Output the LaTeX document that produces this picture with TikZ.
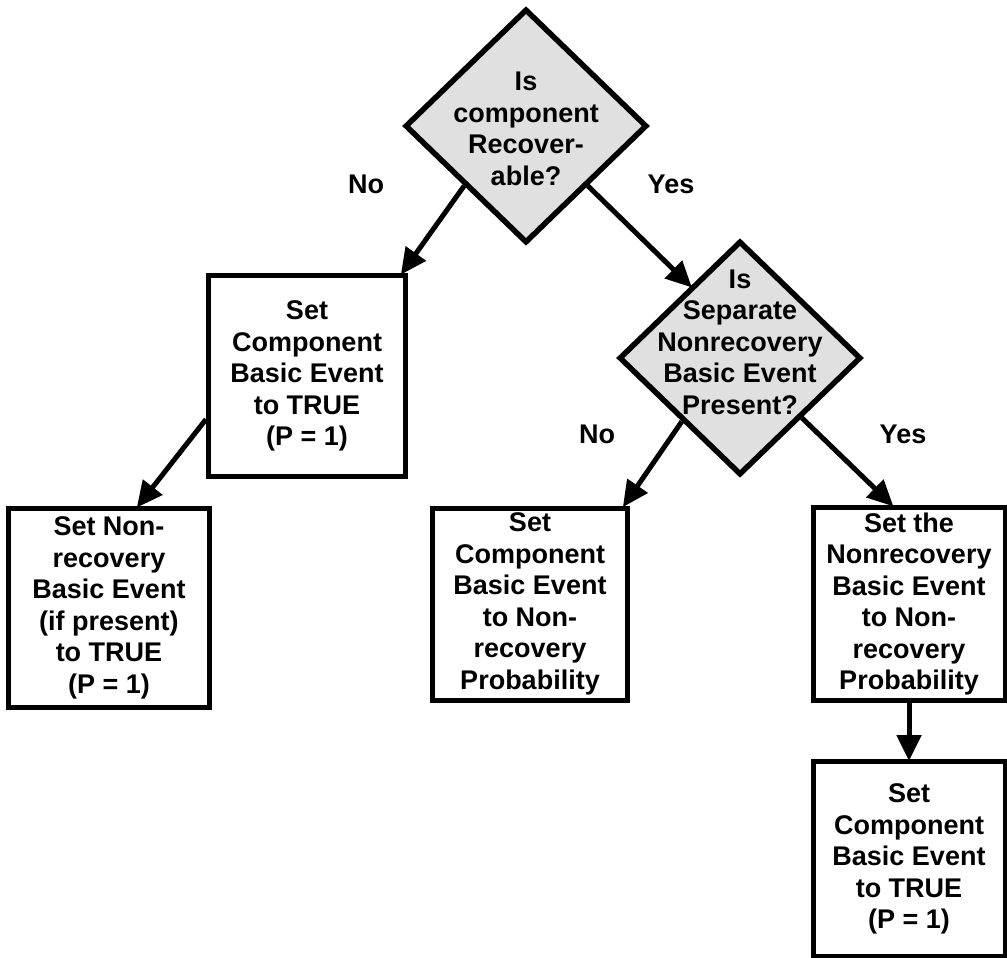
\documentclass[tikz,border=0pt]{standalone}
\usepackage{fontspec}
\setmainfont{Liberation Sans}
\usetikzlibrary{shapes.geometric,arrows.meta,calc}

\begin{document}
\begin{tikzpicture}[x=1pt,y=-1pt,
  txt/.style={font=\fontsize{27}{31.5}\selectfont\bfseries, align=center, inner sep=0pt},
  stepbox/.style={draw, line width=5pt, inner sep=0pt, align=center,
    font=\fontsize{27}{31.5}\selectfont\bfseries},
  decision/.style={draw, diamond, line width=5.5pt, fill=gray!24, inner sep=0pt,
    minimum width=242pt, minimum height=234pt},
  flow/.style={line width=5pt, -{Triangle[length=26pt,width=24pt]}, shorten >=-2pt},
  lbl/.style={font=\fontsize{27}{30}\selectfont\bfseries, inner sep=0pt}
]
\useasboundingbox (0,0) rectangle (1007,958);

% decision diamonds
\node[decision] (d1) at (526,126) {};
\node[txt] (d1t) at (526,129) {Is\\component\\Recover-\\able?};

\node[decision] (d2) at (740,358) {};
\node[txt] (d2t) at (740,342) {Is\\Separate\\Nonrecovery\\Basic Event\\Present?};

% action boxes
\node[stepbox, minimum width=197pt, minimum height=201pt] (b1) at (307,376)
  {Set\\Component\\Basic Event\\to TRUE\\(P = 1)};
\node[stepbox, minimum width=201pt, minimum height=199pt] (b2) at (109,608)
  {Set Non-\\recovery\\Basic Event\\(if present)\\to TRUE\\(P = 1)};
\node[stepbox, minimum width=195pt, minimum height=192pt] (b3) at (530,604)
  {Set\\Component\\Basic Event\\to Non-\\recovery\\Probability};
\node[stepbox, minimum width=192pt, minimum height=193pt] (b4) at (909,604)
  {Set the\\Nonrecovery\\Basic Event\\to Non-\\recovery\\Probability};
\node[stepbox, minimum width=192pt, minimum height=195pt] (b5) at (909,859)
  {Set\\Component\\Basic Event\\to TRUE\\(P = 1)};

% branch labels
\node[lbl] (n1) at (366,184) {No};
\node[lbl] (y1) at (671,184) {Yes};
\node[lbl] (n2) at (597,434) {No};
\node[lbl] (y2) at (903,434) {Yes};

% connectors
\draw[flow] ($(d1.west)!0.5!(d1.south)$) -- ([xshift=-6pt]b1.north east);
\draw[flow] ($(d1.east)!0.5!(d1.south)$) -- ($(d2.west)!0.6!(d2.north)$);
\draw[flow] ($(b1.west)!0.42!(b1.south west)$) -- ([xshift=29pt]b2.north);
\draw[flow] ($(d2.west)!0.53!(d2.south)$) -- ([xshift=-6pt]b3.north east);
\draw[flow] ($(d2.east)!0.5!(d2.south)$) -- ([xshift=-17pt]b4.north);
\draw[flow] (b4.south) -- (b5.north);
\end{tikzpicture}
\end{document}
